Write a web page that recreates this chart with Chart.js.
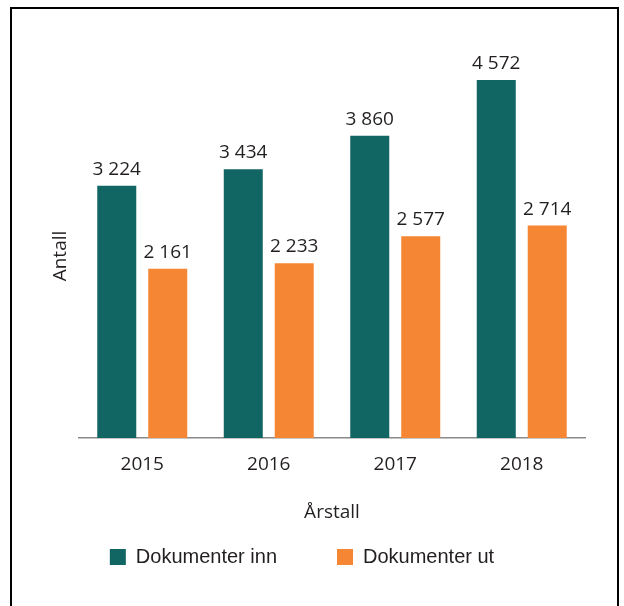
<!DOCTYPE html>
<html>
<head>
<meta charset="utf-8">
<script src="https://cdn.jsdelivr.net/npm/chart.js@4"></script>
<style>
  html, body { margin: 0; padding: 0; background: #fff; }
  #wrap { position: relative; width: 624px; height: 606px; }
  #frame {
    position: absolute; left: 10px; top: 7px; width: 605px; height: 610px;
    border: 2px solid #000; border-bottom: none;
  }
  canvas { position: absolute; left: 0; top: 0; }
</style>
</head>
<body>
<div id="wrap">
  <div id="frame"></div>
  <canvas id="chart" width="624" height="606"></canvas>
</div>
<script>
// Données
const years = ["2015", "2016", "2017", "2018"];
const docsIn = [3224, 3434, 3860, 4572];
const docsOut = [2161, 2233, 2577, 2714];
const seriesNames = ["Dokumenter inn", "Dokumenter ut"];

const textColor = '#231f20';
const fontFamily = "'Open Sans', 'Noto Sans', sans-serif";

// Format "3 224" avec espace comme séparateur de milliers
const formatNumber = (v) => String(v).replace(/\B(?=(\d{3})+(?!\d))/g, ' ');

// Plugin pour écrire la valeur au-dessus de chaque barre
const valueLabels = {
    id: 'valueLabels',
    afterDatasetsDraw(chart) {
        const ctx = chart.ctx;
        ctx.save();
        ctx.font = `19px ${fontFamily}`;
        ctx.fillStyle = textColor;
        ctx.textAlign = 'center';
        ctx.textBaseline = 'alphabetic';
        chart.data.datasets.forEach((ds, i) => {
            chart.getDatasetMeta(i).data.forEach((bar, j) => {
                ctx.fillText(formatNumber(ds.data[j]), bar.x, bar.y - 11);
            });
        });
        ctx.restore();
    }
};

const ctx = document.getElementById('chart').getContext('2d');
new Chart(ctx, {
    type: 'bar',
    data: {
        labels: years,
        datasets: [
            {
                label: seriesNames[0],
                data: docsIn,
                backgroundColor: '#116563',
                categoryPercentage: 0.806,
                barPercentage: 0.765,
            },
            {
                label: seriesNames[1],
                data: docsOut,
                backgroundColor: '#f58634',
                categoryPercentage: 0.806,
                barPercentage: 0.765,
            },
        ],
    },
    options: {
        responsive: false,
        animation: false,
        layout: {
            padding: { left: 19, right: 39, top: 74, bottom: 29 },
        },
        font: { family: fontFamily, size: 19 },
        color: textColor,
        scales: {
            x: {
                grid: { display: false, drawTicks: false },
                border: { display: true, color: '#8a8a8a', width: 1.5 },
                ticks: { color: textColor, font: { size: 19 }, padding: 15 },
                title: {
                    display: true,
                    text: 'Årstall',
                    color: textColor,
                    font: { size: 19 },
                    padding: { top: 0, bottom: -36.5 },
                },
                afterFit: (scale) => { scale.height = 49; },
            },
            y: {
                min: 0,
                max: 4650,
                grid: { display: false, drawTicks: false },
                border: { display: false },
                ticks: { display: false },
                title: {
                    display: true,
                    text: 'Antall',
                    color: textColor,
                    font: { size: 19 },
                    padding: { top: 30, bottom: 7 },
                },
                afterFit: (scale) => { scale.width = 60; },
            },
        },
        plugins: {
            legend: {
                position: 'bottom',
                labels: {
                    boxWidth: 16,
                    boxHeight: 16,
                    padding: 60,
                    color: textColor,
                    font: { size: 20 },
                },
            },
            tooltip: { enabled: false },
        },
    },
    plugins: [valueLabels],
});
</script>
</body>
</html>
